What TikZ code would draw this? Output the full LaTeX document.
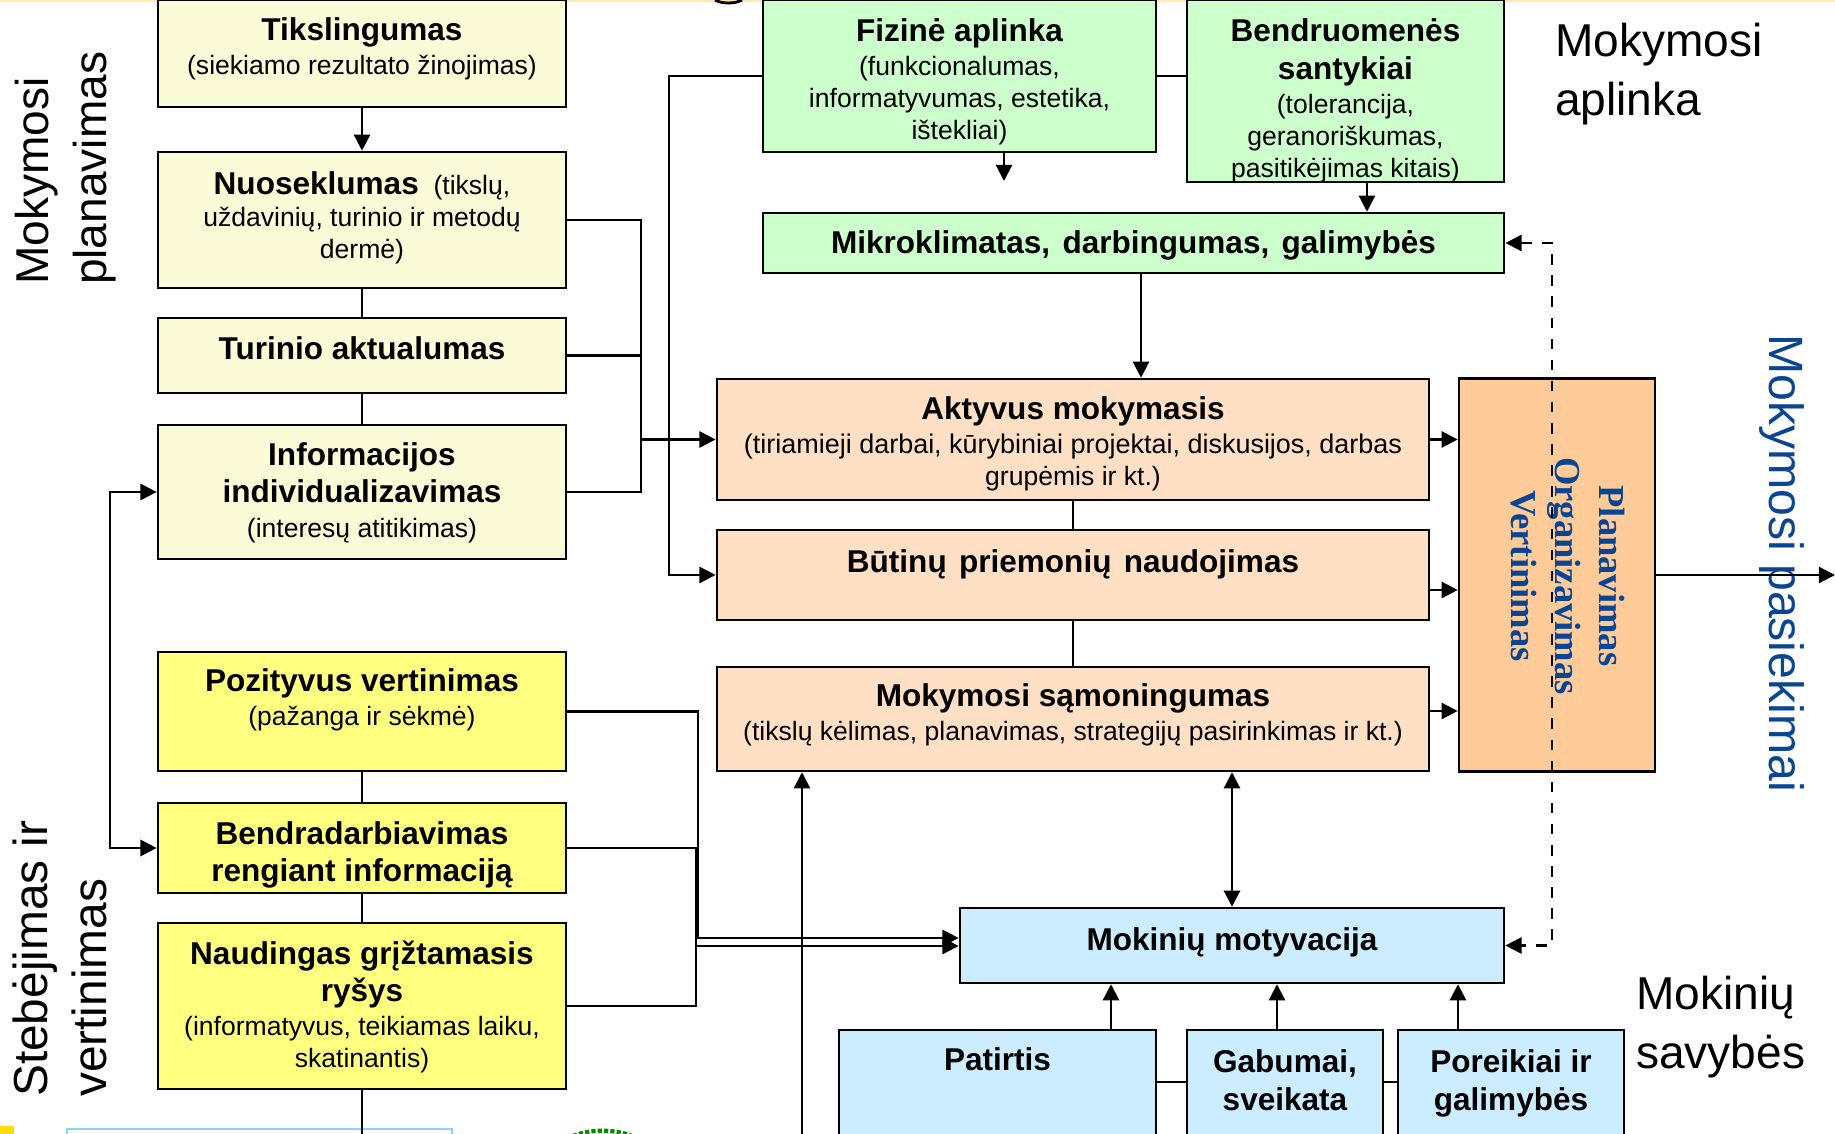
\documentclass[tikz,border=0pt]{standalone}
\usepackage{fontspec}
\setmainfont{Liberation Sans}
\newfontfamily\serifbold{Liberation Serif}
\usetikzlibrary{arrows.meta}
\definecolor{creambox}{HTML}{FBFBD8}
\definecolor{yellowbox}{HTML}{FFFF80}
\definecolor{greenbox}{HTML}{CCFFCC}
\definecolor{peachbox}{HTML}{FFE0C4}
\definecolor{orangebox}{HTML}{FFCC99}
\definecolor{bluebox}{HTML}{CCECFF}
\definecolor{bluetext}{HTML}{0A4594}
\definecolor{topline}{HTML}{FFE8B0}
\newcommand{\ttl}[1]{{\bfseries\fontsize{8.97}{11}\selectfont #1}}
\newcommand{\wgap}{\ \hspace{1pt}}
\tikzset{
  stage/.style={draw=black,line width=0.7pt,align=center,inner sep=0pt,
    font=\fontsize{7.55}{9.1}\selectfont},
  lastbase/.style={text height=#1,text depth=0pt},
  liftbase/.style={text height=0pt,text depth=#1},
  planbox/.style={stage,fill=creambox},
  checkbox/.style={stage,fill=yellowbox},
  envbox/.style={stage,fill=greenbox},
  learnbox/.style={stage,fill=peachbox},
  pupilbox/.style={stage,fill=bluebox},
  sidetext/.style={align=left,inner sep=0pt,font=\fontsize{13.1}{16.6}\selectfont},
  >={Triangle[length=4.6pt,width=4.6pt]}
}
\begin{document}
\begin{tikzpicture}[x=0.01cm,y=-0.01cm,line width=0.65pt]
  \useasboundingbox (0,0) rectangle (1835,1134);
  \clip (0,0) rectangle (1835,1134);
  \fill[fill=white] (0,0) rectangle (1835,1134);
  \draw[color=topline,line width=0.6pt] (0,0.5) -- (1835,0.5);
  \draw[line width=0.8pt] (715,0) .. controls (722,4) and (735,4) .. (742,0);
  \fill[fill=yellow!80!orange] (0,1126) rectangle (14,1134);
  \draw[color=blue!40!cyan!45,line width=0.7pt] (67,1136) -- (67,1129) -- (452,1129) -- (452,1136);
  \draw[color=green!55!black,line width=1.2pt,dash pattern=on 1.2pt off 0.6pt] (573,1136) .. controls (590,1129) and (615,1129) .. (632,1136);

  \node[planbox,lastbase=12.1pt,minimum width=4.08cm,minimum height=1.07cm] (tikslingumas) at (362,53.5)
    {\ttl{Tikslingumas}\\[0.6pt](siekiamo rezultato žinojimas)};
  \node[planbox,lastbase=21.8pt,minimum width=4.08cm,minimum height=1.36cm] (nuoseklumas) at (362,220)
    {\ttl{Nuoseklumas}\ \ (tikslų,\\uždavinių, turinio ir metodų\\dermė)};
  \node[planbox,lastbase=2.5pt,minimum width=4.08cm,minimum height=0.75cm] (turinio) at (362,355.5)
    {\ttl{Turinio aktualumas}};
  \node[planbox,lastbase=25.6pt,minimum width=4.08cm,minimum height=1.34cm] (informacija) at (362,492)
    {\ttl{Informacijos}\\[1.6pt]\ttl{individualizavimas}\\[0.6pt](interesų atitikimas)};
  \node[checkbox,lastbase=7.9pt,minimum width=4.08cm,minimum height=1.19cm] (pozityvus) at (362,711.5)
    {\ttl{Pozityvus vertinimas}\\[0.6pt](pažanga ir sėkmė)};
  \node[checkbox,lastbase=19.3pt,minimum width=4.08cm,minimum height=0.90cm] (bendradarbiavimas) at (362,848)
    {\ttl{Bendradarbiavimas}\\[1.6pt]\ttl{rengiant informaciją}};
  \node[checkbox,lastbase=35.2pt,minimum width=4.08cm,minimum height=1.66cm] (naudingas) at (362,1006)
    {\ttl{Naudingas grįžtamasis}\\[1.6pt]\ttl{ryšys}\\[0.6pt](informatyvus, teikiamas laiku,\\skatinantis)};

  \node[envbox,lastbase=36pt,minimum width=3.93cm,minimum height=1.52cm] (fizine) at (959.5,76)
    {\ttl{Fizinė aplinka}\\[0.6pt](funkcionalumas,\\informatyvumas, estetika,\\ištekliai)};
  \node[envbox,lastbase=49.2pt,minimum width=3.17cm,minimum height=1.82cm] (bendruomene) at (1345.5,91)
    {\ttl{Bendruomenės}\\[1.6pt]\ttl{santykiai}\\[0.6pt](tolerancija,\\geranoriškumas,\\pasitikėjimas kitais)};
  \node[envbox,lastbase=6.2pt,minimum width=7.41cm,minimum height=0.60cm] (mikroklimatas) at (1133.5,243)
    {\ttl{Mikroklimatas,\wgap darbingumas,\wgap galimybės}};

  \node[learnbox,lastbase=26.1pt,minimum width=7.12cm,minimum height=1.21cm] (aktyvus) at (1073,439.5)
    {\ttl{Aktyvus mokymasis}\\[0.6pt]{\fontsize{7.67}{9.1}\selectfont(tiriamieji darbai, kūrybiniai projektai, diskusijos, darbas}\\grupėmis ir kt.)};
  \node[learnbox,liftbase=1.6pt,minimum width=7.12cm,minimum height=0.90cm] (priemones) at (1073,575)
    {\ttl{Būtinų\wgap priemonių\wgap naudojimas}};
  \node[learnbox,lastbase=12.3pt,minimum width=7.12cm,minimum height=1.04cm] (samoningumas) at (1073,719)
    {\ttl{Mokymosi sąmoningumas}\\[0.6pt](tikslų kėlimas, planavimas, strategijų pasirinkimas ir kt.)};
  \node[stage,fill=orangebox,minimum width=1.96cm,minimum height=3.93cm] (valdymas) at (1557,575) {};

  \node[pupilbox,lastbase=3.1pt,minimum width=5.44cm,minimum height=0.75cm] (motyvacija) at (1232,945.5)
    {\ttl{Mokinių motyvacija}};
  \node[pupilbox,liftbase=13.8pt,minimum width=3.17cm,minimum height=1.30cm] (patirtis) at (997.5,1095) {\ttl{Patirtis}};
  \node[pupilbox,lastbase=8.8pt,minimum width=1.96cm,minimum height=1.30cm] (gabumai) at (1285,1095) {\ttl{Gabumai,}\\[1.6pt]\ttl{sveikata}};
  \node[pupilbox,lastbase=8.8pt,minimum width=2.26cm,minimum height=1.30cm] (poreikiai) at (1511,1095) {\ttl{Poreikiai ir}\\[1.6pt]\ttl{galimybės}};

  \node[sidetext,rotate=90,anchor=west] (planavimas) at (65.5,286) {Mokymosi\\planavimas};
  \node[sidetext,rotate=90,anchor=west,font=\fontsize{13.6}{16.6}\selectfont] (stebejimas) at (60,1098) {Stebėjimas ir\\vertinimas};
  \node[sidetext,anchor=west] (aplinka) at (1554,74) {Mokymosi\\aplinka};
  \node[sidetext,anchor=west] (savybes) at (1635,1027) {Mokinių\\savybės};
  \node[sidetext,rotate=-90,anchor=center,text=bluetext,font=\fontsize{13.7}{16}\selectfont] (pasiekimai) at (1782,563) {Mokymosi pasiekimai};
  \node[rotate=-90,align=center,inner sep=0pt,text=bluetext,font=\serifbold\bfseries\fontsize{10.4}{12.5}\selectfont] (etapai) at (1568,576)
    {Planavimas\\Organizavimas\\Vertinimas};

  \coordinate (fizineend) at (1004,181);
  \coordinate (busjoin) at (641,439.5);
  \coordinate (leftbus) at (669,575);
  \coordinate (leftfb) at (110,670);
  \coordinate (railb) at (696,946);
  \coordinate (railup) at (698,800);
  \coordinate (dashx) at (1552,600);
  \coordinate (outend) at (1835,575);
  \coordinate (naudend) at (362,1136);
  \coordinate (riseend) at (802,1136);

  \begin{scope}[-]
    \draw (nuoseklumas) to (turinio);
    \draw (turinio) to (informacija);
    \draw (pozityvus) to (bendradarbiavimas);
    \draw (bendradarbiavimas) to (naudingas);
    \draw (naudingas) to (naudend);
    \draw (aktyvus) to (priemones);
    \draw (priemones) to (samoningumas);
    \draw (nuoseklumas.east) -| (busjoin);
    \draw (informacija.east) -| (busjoin);
    \draw (turinio.east) -- (turinio.east -| busjoin);
    \draw (fizine.east) -- (bendruomene.west |- fizine.east);
    \draw (bendradarbiavimas.east) -| (railb);
    \draw (naudingas.east) -| (railb);
    \draw (patirtis.east |- 0,1082) -- (gabumai.west |- 0,1082);
    \draw (gabumai.east |- 0,1082) -- (poreikiai.west |- 0,1082);
  \end{scope}
  \begin{scope}[->]
    \draw (tikslingumas) to (nuoseklumas);
    \draw (busjoin) -- (aktyvus.west);
    \draw (fizine.west) -| (leftbus) -- (priemones.west);
    \draw (fizine.south -| fizineend) -- (fizineend);
    \draw (bendruomene.south -| 1367,0) -- (mikroklimatas.north -| 1367,0);
    \draw (mikroklimatas.south -| 1141,0) -- (aktyvus.north -| 1141,0);
    \draw (aktyvus.east) -- (valdymas.west |- aktyvus.east);
    \draw (priemones.east |- 0,590) -- (valdymas.west |- 0,590);
    \draw (samoningumas.east |- 0,711) -- (valdymas.west |- 0,711);
    \draw (valdymas.east) -- (outend);
    \draw (pozityvus.east) -| (railup) |- (motyvacija.west |- 0,938);
    \draw (railb) -- (motyvacija.west |- railb);
    \draw (riseend) -- (samoningumas.south -| riseend);
    \draw (patirtis.north -| 1111,0) -- (motyvacija.south -| 1111,0);
    \draw (gabumai.north -| 1277,0) -- (motyvacija.south -| 1277,0);
    \draw (poreikiai.north -| 1458,0) -- (motyvacija.south -| 1458,0);
  \end{scope}
  \begin{scope}[<->]
    \draw (informacija.west) -| (leftfb) |- (bendradarbiavimas.west);
    \draw (motyvacija.north) -- (samoningumas.south -| motyvacija.north);
    \draw[dashed] (mikroklimatas.east) -| (dashx) |- (motyvacija.east);
  \end{scope}
\end{tikzpicture}
\end{document}
